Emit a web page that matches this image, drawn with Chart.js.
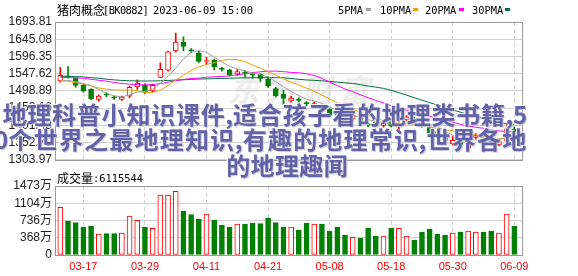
<!DOCTYPE html>
<html><head><meta charset="utf-8">
<script src="https://cdn.jsdelivr.net/npm/chart.js@4.4.0/dist/chart.umd.min.js"></script>
<style>
html,body{margin:0;padding:0;background:#fff;}
#wrap{position:relative;width:578px;height:276px;overflow:hidden;background:#fff;}
canvas{position:absolute;left:0;}
.t{position:absolute;white-space:nowrap;color:#000;line-height:14px;height:14px;}
.cjk{font-family:"Noto Sans CJK SC";font-size:12px;}
.mono{font-family:"DejaVu Sans Mono";font-size:10.4px;}
.mk{position:absolute;height:3px;width:5px;top:8px;}
.wm{position:absolute;white-space:nowrap;width:700px;font-family:"Noto Sans CJK SC";font-weight:700;font-size:24px;line-height:26px;color:#6262a8;text-shadow:1px 1px 1px #c8c8d4,-1px -1px 1px #ffffff;}
.wm span{display:inline-block;text-align:center;overflow:visible;}
.logo{position:absolute;left:228px;top:66px;white-space:nowrap;font-family:"Noto Sans CJK SC";font-weight:700;font-style:italic;font-size:31px;letter-spacing:6px;color:#ededed;}
</style></head><body>
<div id="wrap">
  <div class="logo">东方财富</div>
  <canvas id="pc" width="578" height="170" style="top:0px"></canvas>
  <canvas id="vc" width="578" height="106" style="top:170px"></canvas>

  <div class="t cjk" style="left:57px;top:3px">猪肉概念</div>
  <div class="t mono" style="left:103px;top:3px;letter-spacing:-0.6px">[BK0882]</div>
  <div class="t mono" style="left:153px;top:3px">2023-06-09 15:00</div>

  <div class="t mono" style="left:338px;top:3px">5PMA</div><div class="mk" style="left:366px;background:#a0a0a0"></div>
  <div class="t mono" style="left:380px;top:3px">10PMA</div><div class="mk" style="left:413px;background:#f0a000"></div>
  <div class="t mono" style="left:425px;top:3px">20PMA</div><div class="mk" style="left:459px;background:#ff00ff"></div>
  <div class="t mono" style="left:472px;top:3px">30PMA</div><div class="mk" style="left:505px;background:#007040"></div>

  <div class="t cjk" style="left:57px;top:171px">成交量</div>
  <div class="t mono" style="left:93px;top:171px">:6115544</div>

  <div class="wm" data-p="24.8" style="left:2px;top:101px">地理科普小知识课件,适合孩子看的地理类书籍,5</div>
  <div class="wm" data-p="25.2" style="left:-6px;top:126px">0个世界之最地理知识,有趣的地理常识,世界各地</div>
  <div class="wm" data-p="24.4" style="left:226px;top:152px">的地理趣闻</div>
</div>
<script>
// ---- data ----
const dates = ['03-14','03-15','03-16','03-17','03-20','03-21','03-22','03-23','03-24','03-27','03-28','03-29','03-30','03-31',
 '04-03','04-04','04-06','04-07','04-10','04-11','04-12','04-13','04-14','04-17','04-18','04-19','04-20','04-21',
 '04-24','04-25','04-26','04-27','04-28','05-04','05-05','05-08','05-09','05-10','05-11','05-12','05-15','05-16',
 '05-17','05-18','05-19','05-22','05-23','05-24','05-25','05-26','05-29','05-30','05-31','06-01','06-02','06-05',
 '06-06','06-07','06-08','06-09'];
const openP = [1527.2,1541.5,1534.6,1516.0,1503.0,1475.0,1489.0,1480.5,1475.0,1483.8,1509.9,1514.6,1498.9,1537.3,1557.4,
 1612.3,1637.0,1613.0,1606.0,1582.0,1585.9,1561.0,1558.7,1547.0,1551.0,1545.0,1545.6,1533.2,1505.8,1489.3,
 1470.6,1473.5,1466.0,1457.7,1456.9,1446.8,1435.8,1428.0,1419.3,1424.8,1405.0,1410.2,1401.5,1411.9,1396.5,
 1416.6,1420.1,1408.3,1395.4,1383.6,1373.5,1349.3,1355.4,1338.3,1367.2,1369.9,1357.0,1346.0,1357.0,1389.9];
const highP = [1565.6,1567.8,1535.5,1518.0,1504.5,1488.0,1494.0,1484.0,1484.4,1512.6,1530.5,1519.5,1518.1,1578.5,1611.5,
 1662.2,1651.8,1618.9,1612.3,1594.1,1589.0,1565.6,1560.0,1559.3,1557.4,1551.0,1547.0,1540.0,1509.1,1500.3,
 1483.3,1479.7,1468.7,1467.4,1460.0,1449.0,1444.0,1433.0,1438.5,1428.0,1411.0,1413.0,1412.4,1414.0,1414.6,
 1429.0,1424.0,1410.0,1398.7,1386.0,1376.0,1369.9,1358.0,1368.5,1378.0,1378.1,1360.0,1358.0,1402.8,1397.3];
const lowP = [1523.6,1534.6,1509.1,1496.0,1474.0,1470.0,1482.0,1475.0,1472.3,1479.7,1503.0,1492.0,1496.0,1536.0,1555.0,
 1608.7,1612.3,1606.0,1579.3,1573.8,1558.0,1554.6,1541.5,1542.8,1537.3,1534.6,1526.0,1508.5,1481.6,1460.5,
 1466.8,1466.0,1456.4,1455.0,1438.0,1427.0,1419.3,1413.0,1415.0,1404.0,1397.0,1400.0,1396.0,1397.0,1382.8,
 1413.8,1408.0,1396.0,1372.6,1369.0,1356.0,1345.2,1344.0,1335.6,1362.0,1353.4,1345.0,1344.0,1353.4,1378.0];
const closeP = [1542.8,1539.0,1514.6,1498.0,1477.0,1484.4,1487.0,1479.0,1481.6,1509.1,1520.9,1495.3,1514.6,1560.1,1609.5,
 1637.0,1624.4,1612.0,1582.1,1584.0,1567.5,1560.0,1544.2,1553.8,1549.0,1543.5,1534.0,1512.6,1485.2,1477.8,
 1478.3,1472.0,1461.8,1463.2,1441.3,1430.3,1426.2,1420.0,1430.3,1407.0,1403.0,1402.8,1407.0,1399.3,1405.6,
 1425.6,1411.0,1398.2,1380.9,1372.6,1358.9,1358.9,1346.6,1364.4,1372.6,1366.0,1347.9,1355.4,1391.8,1383.6];
const volume = [1017,726,690,598,619,448,455,455,470,833,740,598,569,1281,1281,1359,939,861,769,875,747,640,598,662,662,
 683,669,790,690,598,598,534,683,662,662,512,598,427,377,363,576,406,406,576,569,406,320,491,555,448,427,470,491,
 512,491,491,512,470,875,611.6]; // 万
const ma5 = [1526,1529,1525,1520,1514.3,1502.6,1492.2,1485.1,1481.8,1488.2,1495.5,1497.2,1504.3,1520,1540.1,1563.3,1589.1,
 1608.6,1613,1607.9,1594,1581.1,1567.6,1561.9,1554.9,1550.1,1544.9,1538.6,1524.9,1510.6,1497.6,1485.2,1475,1470.6,
 1463.3,1453.7,1444.6,1436.2,1429.6,1422.8,1417.3,1412.6,1410,1403.8,1403.5,1408.1,1409.7,1407.9,1404.3,1397.7,1384.3,
 1373.9,1363.6,1360.3,1360.3,1361.7,1359.5,1361.3,1366.7,1368.9];
const ma10 = [1529,1526,1522,1518,1512.6,1507,1503.6,1501.7,1501,1501.3,1499.1,1494.7,1494.7,1500.9,1514.2,1529.4,1543.2,
 1556.5,1566.5,1574,1578.7,1585.1,1588.1,1587.5,1581.4,1572.1,1563,1553.1,1543.4,1532.8,1523.8,1515,1506.8,1497.7,1487,
 1475.7,1464.9,1455.6,1447,1438,1430,1422,1416,1411,1408,1406,1404,1401,1397,1393,1389,1386,1381,1378,1375,1371,1367,
 1364,1364,1365];
const ma20 = [1537.4,1536.5,1536,1534.6,1531.8,1529,1526.3,1522.7,1520,1518,1516.7,1516,1516.7,1519.5,1523.6,1527.7,1531,
 1533.8,1535,1537.6,1538.9,1539.9,1541.4,1544.2,1547.8,1550.7,1553.1,1554.8,1554.9,1553.4,1551.2,1550.1,1547.4,1542.6,
 1534.2,1523.9,1513.9,1504.3,1496.8,1487.9,1479.7,1471.8,1465,1457.2,1450.1,1444.2,1438,1432.3,1427.1,1421.8,1415.9,
 1410.2,1404.4,1399.5,1396.1,1392.8,1388.9,1385.7,1383.8,1382.6];
const ma30 = [1540.5,1540,1539.5,1538.5,1536.5,1534.5,1532,1530,1528.5,1527.5,1527,1526.8,1527,1527.5,1528.5,1529.5,1530.5,
 1531.5,1532.3,1533,1533.6,1534.2,1534.8,1535.3,1535.7,1536,1536.2,1536.3,1536.2,1536,1533.9,1531.6,1529.9,1528.7,
 1527.5,1525.7,1523.7,1521.7,1520,1516.6,1512.7,1509.6,1506,1500.6,1493.8,1486.8,1479.7,1472.6,1465.8,1458.8,1451.8,
 1445.1,1438.6,1432.2,1426.4,1420.4,1414.2,1409,1405.9,1402.8];
const priceTicks = [1303.97,1352.70,1401.43,1450.16,1498.89,1547.62,1596.35,1645.08,1693.81];
const volTicks = [0,368,736,1104,1473];
const volTickLabels = ['0','368万','736万','1104万','1473万'];
const xTickLabels = ['03-17','03-29','04-11','04-21','05-08','05-18','05-30','06-09'];

// ---- lay overlay text out on a fixed character pitch ----
document.querySelectorAll('.wm').forEach(el => {
  const pitch = parseFloat(el.dataset.p);
  const chars = Array.from(el.textContent);
  el.textContent = '';
  chars.forEach(ch => {
    const s = document.createElement('span');
    s.textContent = ch;
    s.style.width = (ch === ',' ? 7.5 : /[0-9]/.test(ch) ? 14 : pitch) + 'px';
    if (ch === ',') s.style.textAlign = 'left';
    el.appendChild(s);
  });
});

// ---- styling / helpers ----
const RED = '#ff0000', GREEN = '#008000';
const X_MIN = -0.69, X_MAX = 60.0;
const up = i => closeP[i] >= openP[i];
const xTickIdx = xTickLabels.map(l => dates.indexOf(l));
const pts = arr => arr.map((v, i) => ({x: i, y: v}));

function xScale(showLabels) {
  return {
    type: 'linear', min: X_MIN, max: X_MAX, offset: false,
    afterBuildTicks: ax => { ax.ticks = xTickIdx.map(v => ({value: v})); },
    grid: {color: '#d2d2d2', lineWidth: 1, drawTicks: false, offset: false},
    border: {display: false, dash: [4, 3]},
    ticks: {display: showLabels, autoSkip: false, maxRotation: 0, color: RED, padding: 5,
      font: {family: 'Liberation Sans', size: 11}, callback: v => dates[v]}
  };
}
const framePlugin = {
  id: 'frame',
  afterDraw(chart) {
    const {ctx, chartArea: a} = chart;
    ctx.save();
    ctx.strokeStyle = '#9a9a9a'; ctx.lineWidth = 1;
    const l = Math.round(a.left), t = Math.round(a.top), r = Math.round(a.right), b = Math.round(a.bottom);
    ctx.strokeRect(l + 0.5, t + 0.5, r - l, b - t);
    ctx.restore();
  }
};
const lineDs = (label, arr, color) => ({type: 'line', label, data: pts(arr), borderColor: color,
  borderWidth: 1, pointRadius: 0, tension: 0, fill: false, order: 0});

new Chart(document.getElementById('pc'), {
  type: 'bar',
  data: {datasets: [
    lineDs('5PMA', ma5, '#a0a0a0'),
    lineDs('10PMA', ma10, '#f0a000'),
    lineDs('20PMA', ma20, '#ff00ff'),
    lineDs('30PMA', ma30, '#007040'),
    {type: 'bar', label: 'body', order: 1, grouped: false, barThickness: 5, minBarLength: 1,
      data: dates.map((d, i) => ({x: i, y: [openP[i], closeP[i]]})),
      backgroundColor: c => up(c.dataIndex) ? '#ffffff' : GREEN,
      borderColor: c => up(c.dataIndex) ? RED : GREEN,
      borderWidth: 1, borderSkipped: false},
    {type: 'bar', label: 'wick', order: 2, grouped: false, barThickness: 1,
      data: dates.map((d, i) => ({x: i, y: [lowP[i], highP[i]]})),
      backgroundColor: c => up(c.dataIndex) ? RED : GREEN, borderWidth: 0}
  ]},
  options: {
    responsive: false, animation: false, devicePixelRatio: 1, events: [],
    layout: {padding: {top: 22, right: 56, bottom: 6, left: 0}},
    scales: {
      x: Object.assign(xScale(false), {afterFit: ax => { ax.height = 0; }}),
      y: {min: 1303.97, max: 1693.81, beginAtZero: false,
        afterBuildTicks: ax => { ax.ticks = priceTicks.map(v => ({value: v})); },
        afterFit: ax => { ax.width = 55; },
        grid: {color: '#d2d2d2', drawTicks: false},
        border: {display: false},
        ticks: {color: '#222', padding: 3, autoSkip: false, font: {family: 'Liberation Sans', size: 12},
          callback: v => v.toFixed(2)}}
    },
    plugins: {legend: {display: false}, tooltip: {enabled: false}}
  },
  plugins: [framePlugin]
});

new Chart(document.getElementById('vc'), {
  type: 'bar',
  data: {datasets: [{label: '成交量', grouped: false, barThickness: 5,
    data: pts(volume),
    backgroundColor: c => up(c.dataIndex) ? '#ffffff' : GREEN,
    borderColor: c => up(c.dataIndex) ? RED : GREEN,
    borderWidth: 1, borderSkipped: false}]},
  options: {
    responsive: false, animation: false, devicePixelRatio: 1, events: [],
    layout: {padding: {top: 16, right: 56, bottom: 0, left: 0}},
    scales: {
      x: Object.assign(xScale(true), {afterFit: ax => { ax.height = 21; }}),
      y: {min: 0, max: 1473,
        afterBuildTicks: ax => { ax.ticks = volTicks.map(v => ({value: v})); },
        afterFit: ax => { ax.width = 55; },
        grid: {color: '#d2d2d2', drawTicks: false},
        border: {display: false},
        ticks: {color: '#222', padding: 3, autoSkip: false, font: {family: "'Liberation Sans', 'Noto Sans CJK SC'", size: 12},
          callback: v => volTickLabels[volTicks.indexOf(v)]}}
    },
    plugins: {legend: {display: false}, tooltip: {enabled: false}}
  },
  plugins: [framePlugin]
});
</script>
</body></html>
